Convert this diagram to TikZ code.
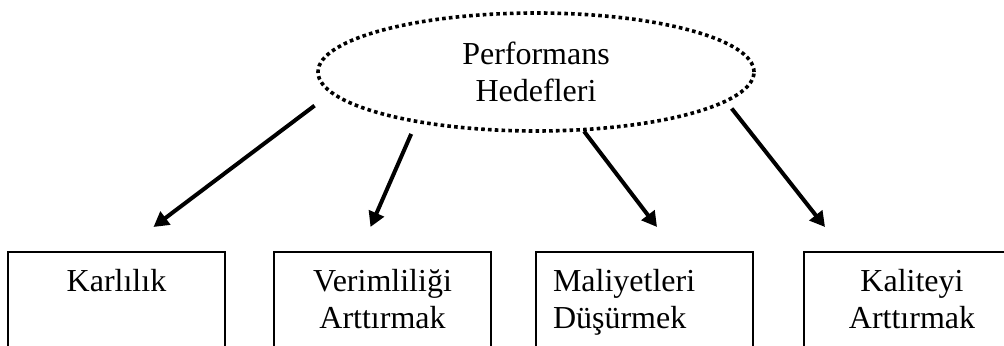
\documentclass[tikz,border=0pt]{standalone}
\usepackage{fontspec}
\setmainfont{Liberation Serif}
\usetikzlibrary{shapes.geometric,arrows.meta,calc}

\begin{document}
\begin{tikzpicture}[x=0.5pt,y=-0.5pt,
  goal/.style={draw, ellipse, line width=1.8pt, dash pattern=on 1.8pt off 1.6pt,
    minimum width=218pt, minimum height=59pt, inner sep=0pt, align=center,
    font=\fontsize{16}{18.4}\selectfont},
  box/.style={draw, line width=1pt, anchor=north, text width=91.5pt, inner xsep=8.5pt,
    inner ysep=0pt, text height=20pt, text depth=40pt, align=center,
    font=\fontsize{16}{18.4}\selectfont},
  arr/.style={-{Triangle[length=7.5pt,width=8pt]}, line width=2pt}]
\useasboundingbox (0,0) rectangle (1004,346);
\clip (0,0) rectangle (1004,346);

% Goal
\node[goal] (ph) at (536,72) {Performans\\Hedefleri};

% Boxes
\node[box] (k1) at (116.5,251) {Karlılık};
\node[box] (k2) at (382.5,251) {Verimliliği\\Arttırmak};
\node[box, align=left] (k3) at (644.5,251) {Maliyetleri\\Düşürmek};
\node[box] (k4) at (912,251) {Kaliteyi\\Arttırmak};

% Arrows
\draw[arr, shorten <=10pt] (ph.186.9) -- ($(k1.north)+(37,-24)$);
\draw[arr, shorten <=6pt] (ph.203.9) -- ($(k2.north)+(-12,-24)$);
\draw[arr] (ph.309.8) -- ($(k3.north)+(12.5,-24)$);
\draw[arr, shorten <=4pt] (ph.351.1) -- ($(k4.north)+(-87,-24)$);
\end{tikzpicture}
\end{document}
